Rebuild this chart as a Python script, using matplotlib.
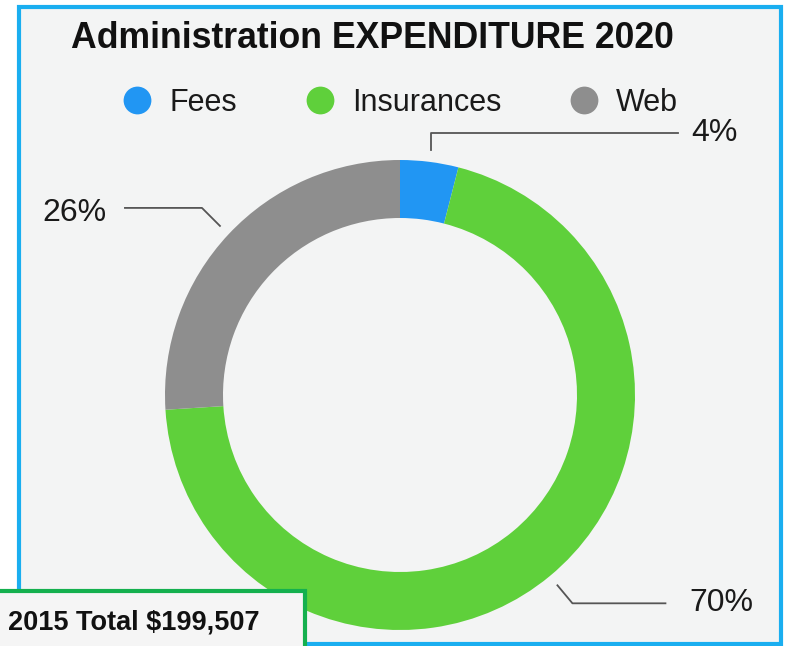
import matplotlib
matplotlib.use('Agg')
from matplotlib import pyplot as plt
from matplotlib.patches import Rectangle
from matplotlib.lines import Line2D
import numpy as np

# chart data
categories = ['Fees', 'Insurances', 'Web']
shares = [4, 70, 26]
colors = ['#2196f3', '#5fd03b', '#8e8e8e']
title = 'Administration EXPENDITURE 2020'
footer = '2015 Total $199,507'

plt.rcParams['font.family'] = ['Liberation Sans', 'DejaVu Sans']

W, H = 787, 646
fig = plt.figure(figsize=(W / 100, H / 100), dpi=100)
fig.patch.set_facecolor('white')
ax = fig.add_axes([0, 0, 1, 1])


def py(y):
    """top-down pixel row -> axes y"""
    return H - y


# panel with blue frame
ax.add_patch(Rectangle((19, py(644)), 762, 637, facecolor='#f3f4f4',
                       edgecolor='#1aaef0', lw=3, zorder=0))

cx, cy = 400, py(395)
r_out, r_in = 235, 177
wedges, _ = ax.pie(shares, colors=colors, startangle=90, counterclock=False,
                   center=(cx, cy), radius=r_out,
                   wedgeprops=dict(width=r_out - r_in, linewidth=0))

ax.set_xlim(0, W)
ax.set_ylim(0, H)
ax.set_aspect('equal')
ax.axis('off')

# percentage labels with elbow leaders, anchored at wedge mid-angles
leader = {'Fees': [(0, 0), (0, 17), (247, 17)],
          'Insurances': [(0, 0), (15, -18), (108, -18)],
          'Web': [(0, 0), (-18, 18), (-95, 18)]}
label_pos = {'Fees': (691, 133), 'Insurances': (689, 603), 'Web': (42, 213)}
for w, name, val in zip(wedges, categories, shares):
    ang = np.deg2rad((w.theta1 + w.theta2) / 2)
    x0 = cx + 247 * np.cos(ang)
    y0 = cy + 247 * np.sin(ang)
    pts = np.array(leader[name]) + [x0, y0]
    ax.plot(pts[:, 0], pts[:, 1], color='#555555', lw=1.3, zorder=3)
    lx, ly = label_pos[name]
    ax.text(lx, py(ly), f'{val}%', fontsize=23, ha='left', va='center',
            color='#1a1a1a')

# title
ax.text(71, py(38), title, fontsize=25.7, fontweight='bold', ha='left',
        va='center', color='#111111')

# legend
handles = [Line2D([], [], marker='o', ls='', markersize=20, color=c,
                  markeredgewidth=0) for c in colors]
fig.legend(handles, categories, ncol=3, loc='center',
           bbox_to_anchor=(400 / W, 1 - 103 / H), frameon=False,
           fontsize=22, handlelength=1.0, handletextpad=0.56,
           columnspacing=2.2, labelcolor='#1a1a1a')

# footer box
ax.add_patch(Rectangle((-5, py(652)), 310, 61, facecolor='#f5f5f5',
                       edgecolor='#14b04e', lw=3, zorder=4, clip_on=False))
ax.text(8, py(623), footer, fontsize=19.5, fontweight='bold', ha='left',
        va='center', color='#111111', zorder=5)

plt.savefig('out.png', dpi=100)
